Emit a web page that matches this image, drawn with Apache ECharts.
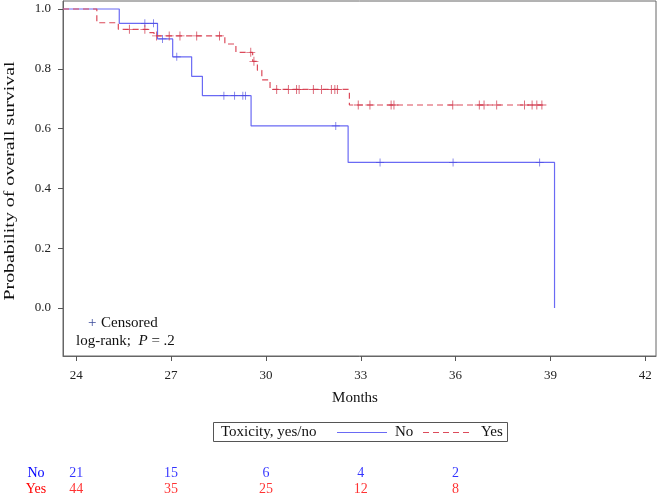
<!DOCTYPE html>
<html>
<head>
<meta charset="utf-8">
<script src="https://cdn.jsdelivr.net/npm/echarts@6/dist/echarts.min.js"></script>
<style>html,body{margin:0;padding:0;background:#fff}#c{width:660px;height:496px}</style>
</head>
<body>
<div id="c"></div>
<script>
// ---- data ----
var xTicks = [24, 27, 30, 33, 36, 39, 42];
var yTicks = [0, 0.2, 0.4, 0.6, 0.8, 1.0];

var noStepTimes = [25.36, 26.57, 27.05, 27.65, 27.99, 29.53, 32.60, 39.13];
var noStepSurv  = [0.952, 0.900, 0.840, 0.775, 0.710, 0.609, 0.487, 0.0];
var noCensorTimes = [26.17, 26.44, 26.73, 27.18, 28.67, 29.01, 29.27, 29.35, 32.21, 33.61, 35.92, 38.66];
var noEnd = 39.13;

var yesStepTimes = [24.65, 25.33, 26.28, 26.46, 28.70, 29.05, 29.58, 29.73, 29.87, 30.13, 32.64];
var yesStepSurv  = [0.954, 0.932, 0.921, 0.910, 0.883, 0.855, 0.825, 0.795, 0.763, 0.731, 0.679];
var yesCensorTimes = [25.68, 26.17, 26.54, 26.94, 27.28, 27.81, 28.53, 29.52, 29.62, 30.34, 30.71, 30.97, 31.05, 31.50, 31.76, 32.07, 32.18, 32.26, 32.92, 33.29, 33.96, 34.05, 35.91, 36.75, 36.90, 37.30, 38.18, 38.42, 38.57, 38.73];
var yesEnd = 38.80;

var riskTimes = [24, 27, 30, 33, 36];
var riskNo  = [21, 15, 6, 4, 2];
var riskYes = [44, 35, 25, 12, 8];

// ---- helpers ----
var X_MIN = 23.58, X_MAX = 42.34;
function kmPath(times, surv, end) {
  var pts = [[X_MIN, 1]], prev = 1;
  for (var i = 0; i < times.length; i++) {
    pts.push([times[i], prev]);
    pts.push([times[i], surv[i]]);
    prev = surv[i];
  }
  pts.push([end, prev]);
  return pts;
}
function survAt(times, surv, t) {
  var v = 1;
  for (var i = 0; i < times.length; i++) { if (times[i] <= t) v = surv[i]; }
  return v;
}
function censorPts(ct, times, surv) {
  return ct.map(function (t) { return [t, survAt(times, surv, t)]; });
}
var plus = 'path://M-0.1,-1H0.1V1H-0.1Z M-1,-0.1H1V0.1H-1Z';
var FONT = 'Liberation Serif, Times New Roman, serif';
var BLUE = '#6a6af4', RED = '#dc4a5a';

var chart = echarts.init(document.getElementById('c'));
chart.setOption({
  animation: false,
  backgroundColor: '#fff',
  textStyle: { fontFamily: FONT },
  grid: [
    { left: 63, right: 4, top: 1, bottom: 140, show: true, borderColor: '#666', borderWidth: 1,
      containLabel: false, outerBoundsMode: 'none' },
    { left: 63, right: 4, top: 465, height: 32, containLabel: false, outerBoundsMode: 'none' }
  ],
  xAxis: [
    {
      type: 'value', gridIndex: 0, min: X_MIN, max: X_MAX,
      name: 'Months', nameLocation: 'middle', nameGap: 35,
      nameTextStyle: { fontFamily: FONT, fontSize: 15, color: '#111', padding: [0, 9, 0, 0] },
      axisLine: { show: true, onZero: false, lineStyle: { color: '#666' } },
      axisTick: { show: true, length: 5, inside: false, customValues: xTicks, lineStyle: { color: '#555' } },
      axisLabel: { customValues: xTicks, margin: 13, fontFamily: FONT, fontSize: 13, color: '#222' },
      splitLine: { show: false }
    },
    {
      type: 'value', gridIndex: 1, min: X_MIN, max: X_MAX, show: false
    }
  ],
  yAxis: [
    {
      type: 'value', gridIndex: 0, min: -0.1605, max: 1.0268,
      axisLine: { show: true, onZero: false, lineStyle: { color: '#666' } },
      axisTick: { show: true, length: 5, inside: false, customValues: yTicks, lineStyle: { color: '#555' } },
      axisLabel: { customValues: yTicks, margin: 12, fontFamily: FONT, fontSize: 13, color: '#222',
        formatter: function (v) { return v.toFixed(1); } },
      splitLine: { show: false }
    },
    {
      type: 'category', gridIndex: 1, data: ['Yes', 'No'], inverse: false,
      axisLine: { show: false }, axisTick: { show: false }, splitLine: { show: false },
      axisLabel: { interval: 0, hideOverlap: false, margin: 27, align: 'center', fontFamily: FONT, fontSize: 14,
        color: function (v) { return v === 'No' ? '#0000ff' : '#ff0000'; } }
    }
  ],
  series: [
    { name: 'No', type: 'line', xAxisIndex: 0, yAxisIndex: 0, data: kmPath(noStepTimes, noStepSurv, noEnd),
      showSymbol: false, symbol: 'none', lineStyle: { color: BLUE, width: 1.2 }, z: 3 },
    { name: 'Yes', type: 'line', xAxisIndex: 0, yAxisIndex: 0, data: kmPath(yesStepTimes, yesStepSurv, yesEnd),
      showSymbol: false, symbol: 'none', lineStyle: { color: RED, width: 1.2, type: [6, 4] }, z: 3 },
    { type: 'scatter', xAxisIndex: 0, yAxisIndex: 0, data: censorPts(noCensorTimes, noStepTimes, noStepSurv),
      symbol: plus, symbolSize: 8, itemStyle: { color: '#4a4ae0' }, z: 4 },
    { type: 'scatter', xAxisIndex: 0, yAxisIndex: 0, data: censorPts(yesCensorTimes, yesStepTimes, yesStepSurv),
      symbol: plus, symbolSize: 9, itemStyle: { color: '#d0364a' }, z: 4 },
    { type: 'scatter', xAxisIndex: 1, yAxisIndex: 1,
      data: riskTimes.map(function (t, i) { return [t, 'No', riskNo[i]]; }),
      symbolSize: 1, itemStyle: { color: 'rgba(0,0,0,0)' },
      label: { show: true, position: 'inside', formatter: function (p) { return p.value[2]; },
        fontFamily: FONT, fontSize: 14, color: '#0000ff' } },
    { type: 'scatter', xAxisIndex: 1, yAxisIndex: 1,
      data: riskTimes.map(function (t, i) { return [t, 'Yes', riskYes[i]]; }),
      symbolSize: 1, itemStyle: { color: 'rgba(0,0,0,0)' },
      label: { show: true, position: 'inside', formatter: function (p) { return p.value[2]; },
        fontFamily: FONT, fontSize: 14, color: '#ff0000' } }
  ],
  graphic: [
    { type: 'text', x: 10, y: 181, rotation: Math.PI / 2, scaleX: 1.42,
      style: { text: 'Probability of overall survival', font: '14px ' + FONT, fill: '#111', align: 'center', verticalAlign: 'middle' } },
    { type: 'text', left: 88, top: 316, style: { text: '+', font: '15px ' + FONT, fill: '#3a4a9a' } },
    { type: 'text', left: 101, top: 316, style: { text: 'Censored', font: '15px ' + FONT, fill: '#111' } },
    { type: 'text', left: 76, top: 334, style: {
        text: '{n|log-rank;  }{i|P}{n| = .2}',
        rich: { n: { fontFamily: FONT, fontSize: 15, fill: '#111' }, i: { fontFamily: FONT, fontSize: 15, fontStyle: 'italic', fill: '#111' } } } },
    { type: 'rect', shape: { x: 213.5, y: 422.5, width: 294, height: 19 }, style: { fill: 'none', stroke: '#555', lineWidth: 1 } },
    { type: 'text', x: 221, y: 432, style: { text: 'Toxicity, yes/no', font: '15px ' + FONT, fill: '#111', verticalAlign: 'middle' } },
    { type: 'line', shape: { x1: 337, y1: 432.5, x2: 387, y2: 432.5 }, style: { stroke: BLUE, lineWidth: 1 } },
    { type: 'text', x: 395, y: 432, style: { text: 'No', font: '15px ' + FONT, fill: '#111', verticalAlign: 'middle' } },
    { type: 'line', shape: { x1: 423, y1: 432.5, x2: 473, y2: 432.5 }, style: { stroke: RED, lineWidth: 1, lineDash: [6, 4] } },
    { type: 'text', x: 481, y: 432, style: { text: 'Yes', font: '15px ' + FONT, fill: '#111', verticalAlign: 'middle' } }
  ]
});
</script>
</body>
</html>
